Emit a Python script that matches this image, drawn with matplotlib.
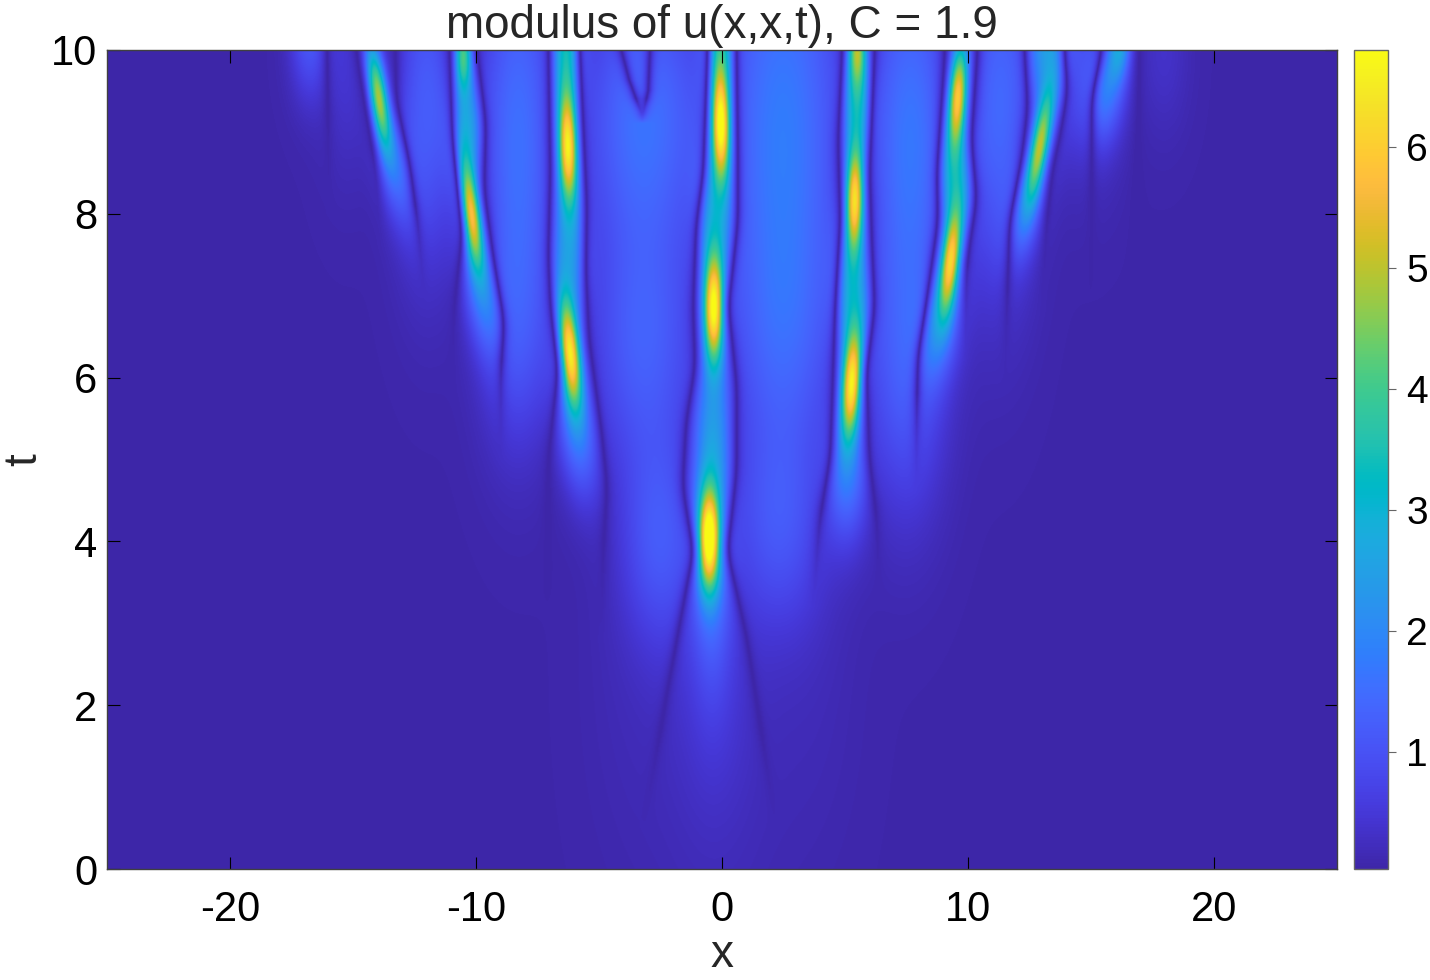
import matplotlib
matplotlib.use('Agg')
import matplotlib.pyplot as plt
import numpy as np
from matplotlib.colors import LinearSegmentedColormap

plt.rcParams['font.family'] = ['Liberation Sans', 'DejaVu Sans']
plt.rcParams['axes.unicode_minus'] = False

# MATLAB parula
parula = LinearSegmentedColormap.from_list('parula', [
    [0.2422, 0.1504, 0.6603], [0.2504, 0.1650, 0.7076], [0.2578, 0.1818, 0.7511], [0.2647, 0.1978, 0.7952],
    [0.2706, 0.2147, 0.8364], [0.2751, 0.2342, 0.8710], [0.2783, 0.2559, 0.8991], [0.2803, 0.2782, 0.9221],
    [0.2813, 0.3006, 0.9414], [0.2810, 0.3228, 0.9579], [0.2795, 0.3447, 0.9717], [0.2760, 0.3667, 0.9829],
    [0.2699, 0.3892, 0.9906], [0.2602, 0.4123, 0.9952], [0.2440, 0.4358, 0.9988], [0.2206, 0.4603, 0.9973],
    [0.1963, 0.4847, 0.9892], [0.1834, 0.5074, 0.9798], [0.1786, 0.5289, 0.9682], [0.1764, 0.5499, 0.9520],
    [0.1687, 0.5703, 0.9359], [0.1540, 0.5902, 0.9218], [0.1460, 0.6091, 0.9079], [0.1380, 0.6276, 0.8973],
    [0.1248, 0.6459, 0.8883], [0.1113, 0.6635, 0.8763], [0.0952, 0.6798, 0.8598], [0.0689, 0.6948, 0.8394],
    [0.0297, 0.7082, 0.8163], [0.0036, 0.7203, 0.7917], [0.0067, 0.7312, 0.7660], [0.0433, 0.7411, 0.7394],
    [0.0964, 0.7500, 0.7120], [0.1408, 0.7584, 0.6842], [0.1717, 0.7670, 0.6554], [0.1938, 0.7758, 0.6251],
    [0.2161, 0.7843, 0.5923], [0.2470, 0.7918, 0.5567], [0.2906, 0.7973, 0.5188], [0.3406, 0.8008, 0.4789],
    [0.3909, 0.8029, 0.4354], [0.4456, 0.8024, 0.3909], [0.5044, 0.7993, 0.3480], [0.5616, 0.7942, 0.3045],
    [0.6174, 0.7876, 0.2612], [0.6720, 0.7793, 0.2227], [0.7242, 0.7698, 0.1910], [0.7738, 0.7598, 0.1646],
    [0.8203, 0.7498, 0.1535], [0.8634, 0.7406, 0.1596], [0.9035, 0.7330, 0.1774], [0.9393, 0.7288, 0.2100],
    [0.9728, 0.7298, 0.2394], [0.9956, 0.7434, 0.2371], [0.9970, 0.7659, 0.2199], [0.9952, 0.7893, 0.2028],
    [0.9892, 0.8136, 0.1885], [0.9786, 0.8386, 0.1766], [0.9676, 0.8639, 0.1643], [0.9610, 0.8890, 0.1537],
    [0.9597, 0.9135, 0.1423], [0.9628, 0.9373, 0.1265], [0.9691, 0.9606, 0.1064], [0.9769, 0.9839, 0.0805]], N=256)

# Data
# bright peaks: x, t, height, width in x, width in t, drift dx/dt
peaks = [
    (-0.53, 4.02, 5.6, 0.30, 0.42, 0.0),
    (-6.18, 6.28, 5.3, 0.29, 0.45, -0.30),
    (-0.33, 6.83, 5.6, 0.29, 0.45, 0.0),
    (5.28, 5.91, 5.5, 0.29, 0.45, 0.20),
    (-10.2, 7.98, 5.0, 0.28, 0.44, -0.40),
    (-6.26, 8.80, 5.1, 0.28, 0.46, -0.08),
    (-0.04, 9.06, 5.1, 0.27, 0.46, -0.05),
    (5.40, 8.17, 5.3, 0.27, 0.44, 0.06),
    (9.30, 7.41, 4.8, 0.27, 0.44, 0.35),
    (9.60, 9.45, 5.0, 0.27, 0.44, 0.20),
    (12.93, 8.82, 4.1, 0.27, 0.46, 0.55),
    (-13.98, 9.43, 4.5, 0.27, 0.46, -0.45),
    (-10.53, 9.96, 3.4, 0.26, 0.32, 0.0),
    (5.50, 10.05, 3.2, 0.26, 0.32, 0.0),
    (16.2, 10.05, 1.9, 0.32, 0.30, 0.3),
]
# filament glow around and between the peaks, same columns
glows = [
    (-0.4, 4.0, 1.6, 0.55, 1.05, 0.0), (-0.3, 2.2, 0.35, 1.2, 1.1, 0.0), (-0.2, 0.3, 0.1, 2.0, 1.5, 0.0),
    (-0.35, 5.4, 1.3, 0.52, 0.75, 0.0), (-0.3, 7.9, 1.9, 0.52, 0.75, 0.0), (-0.1, 10.1, 2.7, 0.42, 0.70, 0.0),
    (-5.9, 5.4, 1.5, 0.57, 0.60, -0.3), (-6.2, 7.5, 2.0, 0.52, 0.80, 0.0), (-6.3, 10.1, 2.9, 0.44, 0.75, 0.0),
    (5.1, 4.9, 1.5, 0.57, 0.60, 0.0), (5.3, 7.0, 2.2, 0.52, 0.65, 0.0), (5.5, 9.4, 2.5, 0.42, 0.55, 0.0),
    (-9.8, 7.1, 1.4, 0.52, 0.55, -0.4), (-10.4, 9.0, 2.2, 0.47, 0.55, 0.0),
    (8.9, 6.7, 1.4, 0.57, 0.50, 0.35), (9.5, 8.4, 2.2, 0.47, 0.55, 0.0),
    (-13.3, 8.6, 1.2, 0.52, 0.50, -0.45),
    (12.4, 8.1, 1.2, 0.52, 0.45, 0.55), (13.3, 10.1, 2.2, 0.62, 0.70, 0.0),
    (15.6, 9.5, 1.3, 0.57, 0.45, 0.3),
]
# broad lobes between the filaments: x, t, height, width in x, width in t
lobes = [
    (2.5, 9.0, 1.7, 1.8, 2.2), (2.5, 6.4, 0.6, 1.5, 1.0), (2.3, 4.2, 0.9, 1.3, 0.9),
    (-3.2, 9.2, 1.5, 1.7, 1.2), (-3.2, 6.4, 1.15, 1.5, 1.1), (-2.5, 4.0, 1.0, 1.1, 0.9),
    (-8.3, 9.0, 1.45, 1.1, 1.7), (-8.3, 6.5, 0.7, 1.0, 1.0), (-3.5, 2.2, 0.1, 1.5, 1.5), (3.5, 2.2, 0.1, 1.5, 1.5),
    (7.7, 9.0, 1.55, 1.2, 1.6), (7.5, 6.0, 1.0, 1.1, 1.2),
    (11.3, 9.3, 1.35, 1.0, 1.5), (-12.0, 9.3, 1.15, 0.9, 1.3),
    (15.0, 10.0, 0.7, 0.9, 1.0), (-16.8, 10.2, 1.0, 0.55, 0.55), (18.0, 10.0, 0.3, 0.7, 0.7),
    (-15.3, 10.0, 0.4, 0.8, 1.0),
]
# dark lines of zero modulus, as (t, x) pairs going up the picture
nodes = [
    [(0.5, -3.2), (2.2, -2.2), (3.86, -1.18), (4.66, -1.6), (5.45, -1.46), (6.13, -1.1), (6.86, -1.18), (7.84, -1.06), (8.5, -0.77), (10, -0.6)],
    [(0.5, 2.2), (2.83, 1.0), (3.86, 0.24), (4.85, 0.6), (5.9, 0.6), (6.86, 0.28), (7.9, 0.65), (8.8, 0.65), (10, 0.6)],
    [(3.2, -7.1), (5.0, -7.07), (6.05, -6.7), (6.86, -6.99), (7.47, -7.07), (8.5, -6.99), (10, -7.07)],
    [(2.8, -4.9), (3.86, -4.84), (4.66, -4.67), (5.3, -4.88), (6.46, -5.4), (7.28, -5.53), (8.1, -5.49), (10, -5.77)],
    [(5.8, -11.0), (6.86, -10.9), (7.7, -10.6), (8.9, -10.97), (10, -11.1)],
    [(5.0, -9.0), (6.05, -9.0), (6.67, -8.86), (7.47, -9.3), (8.3, -9.67), (9.1, -9.6), (10, -9.96)],
    [(7.6, -13.9), (8.5, -14.1), (9.3, -14.55), (10, -14.9)],
    [(6.9, -12.1), (7.84, -12.36), (8.6, -12.7), (9.4, -13.25), (10, -13.3)],
    [(8.0, -16.0), (10, -16.06)],
    [(3.2, 3.7), (4.26, 3.98), (5.03, 4.4), (6.86, 4.6), (7.9, 4.8), (8.9, 4.72), (10, 4.88)],
    [(3.2, 6.4), (4.26, 6.3), (5.03, 6.0), (6.05, 5.9), (6.86, 6.22), (7.68, 6.1), (8.5, 6.02), (10, 6.22)],
    [(4.6, 7.9), (5.64, 7.93), (6.25, 7.97), (6.95, 8.33), (7.9, 8.78), (8.5, 8.74), (10, 9.07)],
    [(6.2, 9.9), (7.27, 9.96), (7.6, 10.08), (8.17, 10.37), (8.9, 10.16), (10, 10.4)],
    [(5.9, 11.5), (6.9, 11.6), (7.9, 11.7), (8.7, 12.2), (9.3, 12.44), (10, 12.3)],
    [(6.8, 13.0), (7.8, 13.2), (8.5, 13.45), (9.0, 13.8), (9.5, 14.07), (10, 13.94)],
    [(7.0, 15.0), (8.0, 15.04), (9.4, 15.04), (10, 15.45)],
    [(7.0, 16.8), (8.0, 16.87), (10, 17.0)],
    [(9.1, -3.25), (9.23, -3.29), (9.63, -3.78), (10, -4.1)],
    [(9.1, -3.25), (9.23, -3.2), (9.5, -3.0), (10, -2.93)],
]
x_ticks = [-20, -10, 0, 10, 20]
t_ticks = [0, 2, 4, 6, 8, 10]
c_ticks = [1, 2, 3, 4, 5, 6]
c_min, c_max = 0.03, 6.8

x = np.linspace(-25, 25, 1231)
t = np.linspace(0, 10, 820)
X, T = np.meshgrid(x, t)

U = np.full(X.shape, 0.05)
for x0, t0, h, sx, st, drift in peaks + glows:
    U += h * np.exp(-((X - x0 - drift * (T - t0)) / sx)**2 / 2 - ((T - t0) / st)**2 / 2)
for x0, t0, h, sx, st in lobes:
    U += h * np.exp(-((X - x0) / sx)**2 / 2 - ((T - t0) / st)**2 / 2)

win = np.hanning(61)
win /= win.sum()
for line in nodes:
    nt, nx = zip(*line)
    # round off the corners between the read points
    path = np.interp(np.arange(-30, 850), np.linspace(0, 819, 820), np.interp(t, nt, nx))
    path = np.convolve(path, win, mode='same')[30:850]
    if nt[0] >= 9:
        path = np.interp(t, nt, nx)
    # a line fades in over its lowest stretch, modulus has a cusp on it
    fade = 0.3 if nt[0] >= 9 else 1.2
    depth = np.clip((T - nt[0]) / fade, 0, 1)
    U *= 1 - depth * (1 - np.tanh(np.abs(X - path[:, None]) / 0.28))

fig = plt.figure(figsize=(14.3, 9.8), dpi=100)
ax = fig.add_axes([107 / 1430, 111 / 980, 1230 / 1430, 819 / 980])
im = ax.imshow(U, origin='lower', extent=[-25, 25, 0, 10], aspect='auto', cmap=parula,
               vmin=c_min, vmax=c_max, interpolation='bilinear')
ax.set_xticks(x_ticks)
ax.set_yticks(t_ticks)
ax.tick_params(axis='x', direction='in', top=True, length=9, width=0.8, labelsize=30, pad=15)
ax.tick_params(axis='y', direction='in', right=True, length=9, width=0.8, labelsize=30, pad=7)
ax.set_xlabel('x', fontsize=33, color='#262626', va='center')
ax.xaxis.set_label_coords(0.5, -86 / 819)
ax.set_ylabel('t', fontsize=33, color='#262626', va='center')
ax.yaxis.set_label_coords(-83 / 1230, 0.5)
ax.set_title('modulus of u(x,x,t), C = 1.9', fontsize=33, color='#262626', pad=9)
for s in ax.spines.values():
    s.set_linewidth(1.0)
    s.set_color('#404040')

cax = fig.add_axes([1354 / 1430, 111 / 980, 34 / 1430, 819 / 980])
cb = fig.colorbar(im, cax=cax)
cb.set_ticks(c_ticks)
cb.ax.tick_params(direction='out', length=6, width=0.8, labelsize=28, pad=7, color='#666666')
cb.outline.set_edgecolor('#666666')
cb.outline.set_linewidth(1.0)

fig.savefig('out.png', dpi=100)
